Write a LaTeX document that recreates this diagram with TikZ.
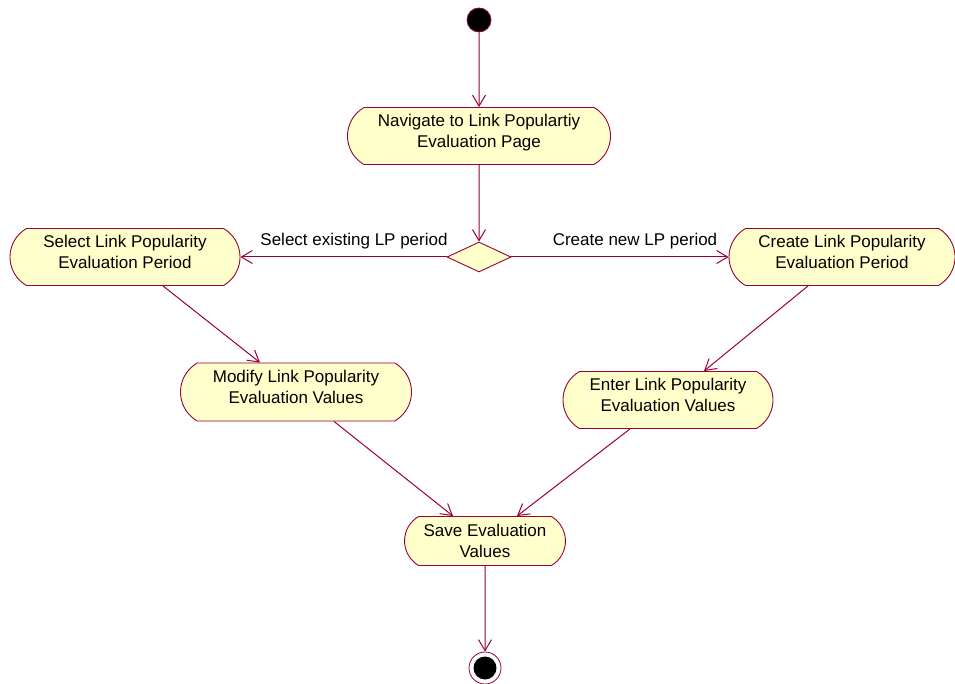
\documentclass[tikz,border=0pt]{standalone}
\usepackage{fontspec}
\setmainfont{Liberation Sans}
\usetikzlibrary{shapes.misc,shapes.geometric,arrows.meta}
\definecolor{umlline}{HTML}{990033}
\definecolor{umlfill}{HTML}{FFFFCC}
\begin{document}
\begin{tikzpicture}[x=1pt,y=-1pt,
  act/.style={rounded rectangle, rounded rectangle arc length=120, draw=umlline, fill=umlfill, line width=0.9pt,
    align=center, font=\fontsize{17}{21}\selectfont, inner sep=0pt},
  flow/.style={draw=umlline, line width=1pt, -{Straight Barb[length=11pt,width=13pt,line width=1pt]}},
  lbl/.style={font=\fontsize{17}{20}\selectfont, inner sep=0pt}]
\useasboundingbox (0,0) rectangle (955,684);
\node[circle, fill=black, draw=umlline, line width=0.8pt, minimum size=24pt, inner sep=0pt] (start) at (479,20) {};
\node[act, minimum width=263pt, minimum height=57pt] (nav) at (479,136) {Navigate to Link Populartiy\\Evaluation Page\\[-11pt]};
\node[diamond, draw=umlline, fill=umlfill, line width=0.9pt, minimum width=64pt, minimum height=30pt, inner sep=0pt] (dec) at (479,257) {};
\node[act, minimum width=230pt, minimum height=57pt] (sel) at (125,257) {Select Link Popularity\\Evaluation Period\\[-11pt]};
\node[act, minimum width=226pt, minimum height=57pt] (cre) at (842,257) {Create Link Popularity\\Evaluation Period\\[-11pt]};
\node[act, minimum width=231pt, minimum height=58pt] (mod) at (296,392) {Modify Link Popularity\\Evaluation Values\\[-11pt]};
\node[act, minimum width=210pt, minimum height=57pt] (ent) at (668,400) {Enter Link Popularity\\Evaluation Values\\[-11pt]};
\node[act, minimum width=161pt, minimum height=49pt] (save) at (485,541) {Save Evaluation\\Values};
\node[circle, draw=umlline, fill=white, line width=0.8pt, minimum size=32pt, inner sep=0pt] (end) at (485,668) {};
\node[circle, fill=black, minimum size=23pt, inner sep=0pt] (endin) at (end.center) {};
\node[lbl] (lsel) at (354,241) {Select existing LP period};
\node[lbl] (lcre) at (635,241) {Create new LP period};

\draw[flow] (start) -- (nav);
\draw[flow] (nav) -- (dec);
\draw[flow] (dec.west) -- (sel.east);
\draw[flow] (dec.east) -- (cre.west);
\draw[flow] ([xshift=38pt]sel.south) -- ([xshift=-36pt]mod.north);
\draw[flow] ([xshift=-34pt]cre.south) -- ([xshift=36pt]ent.north);
\draw[flow] ([xshift=38pt]mod.south) -- ([xshift=-32pt]save.north);
\draw[flow] ([xshift=-38pt]ent.south) -- ([xshift=32pt]save.north);
\draw[flow] (save) -- (end);
\end{tikzpicture}
\end{document}
